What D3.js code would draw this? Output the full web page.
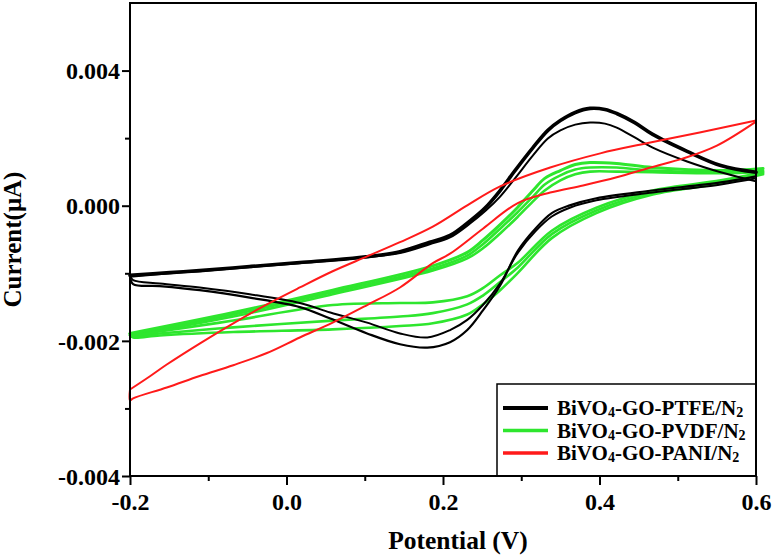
<!DOCTYPE html>
<html><head><meta charset="utf-8">
<script src="https://cdn.jsdelivr.net/npm/d3@7"></script>
<style>
body{margin:0;background:#fff}
svg{display:block}
text{font-family:"Liberation Serif","Times New Roman",serif;font-weight:bold;fill:#000}
</style>
</head><body>
<svg id="chart" width="775" height="556"></svg>
<script>
// ---------- axis ticks ----------
const xTicks = [-0.2, 0.0, 0.2, 0.4, 0.6];
const xTickLabels = ["-0.2", "0.0", "0.2", "0.4", "0.6"];
const xMinorTicks = [-0.1, 0.1, 0.3, 0.5];
const yTicks = [0.004, 0.000, -0.002, -0.004];
const yTickLabels = ["0.004", "0.000", "-0.002", "-0.004"];
const yMinorTicks = [0.002, -0.001, -0.003];

// ---------- series ----------
const seriesNames = ["BiVO4-GO-PTFE/N2", "BiVO4-GO-PVDF/N2", "BiVO4-GO-PANI/N2"];
const seriesColors = ["#000000", "#2ee62e", "#ff1a1a"];

// PTFE, anodic (forward) scans
const ptfeForwardV = [-0.200, -0.149, -0.111, -0.047, 0.017, 0.081, 0.145, 0.183, 0.209, 0.235, 0.254, 0.273, 0.292, 0.315, 0.334, 0.350, 0.369, 0.388, 0.407, 0.422, 0.445, 0.468, 0.512, 0.555, 0.600];
const ptfeForward1I = [-0.00103, -0.00099, -0.00096, -0.00090, -0.00084, -0.00078, -0.00068, -0.00054, -0.00044, -0.00022, -0.00003, 0.00045, 0.00104, 0.00172, 0.00223, 0.00252, 0.00276, 0.00288, 0.00285, 0.00273, 0.00246, 0.00211, 0.00161, 0.00119, 0.00099];
const ptfeForward2I = [-0.00105, -0.00100, -0.00097, -0.00091, -0.00085, -0.00079, -0.00070, -0.00057, -0.00047, -0.00026, -0.00008, 0.00027, 0.00081, 0.00149, 0.00199, 0.00223, 0.00240, 0.00246, 0.00243, 0.00231, 0.00202, 0.00172, 0.00131, 0.00099, 0.00072];
// PTFE, cathodic (reverse) scans
const ptfeReverseV = [0.600, 0.555, 0.468, 0.396, 0.362, 0.339, 0.318, 0.296, 0.273, 0.251, 0.231, 0.209, 0.180, 0.145, 0.103, 0.056, 0.017, -0.047, -0.111, -0.162, -0.196, -0.200];
const ptfeReverse1I = [0.00087, 0.00069, 0.00045, 0.00022, 0.00001, -0.00011, -0.00034, -0.00066, -0.00118, -0.00155, -0.00184, -0.00202, -0.00210, -0.00205, -0.00189, -0.00167, -0.00150, -0.00136, -0.00125, -0.00119, -0.00116, -0.00105];
const ptfeReverse2I = [0.00081, 0.00063, 0.00039, 0.00016, -0.00003, -0.00016, -0.00038, -0.00069, -0.00115, -0.00147, -0.00169, -0.00184, -0.00195, -0.00189, -0.00173, -0.00158, -0.00144, -0.00131, -0.00121, -0.00115, -0.00110, -0.00104];

// PVDF, three cycles
const pvdfForwardV = [-0.200, -0.068, 0.059, 0.187, 0.231, 0.251, 0.273, 0.295, 0.315, 0.330, 0.350, 0.369, 0.388, 0.422, 0.468, 0.555, 0.609];
const pvdfForward1I = [-0.00189, -0.00158, -0.00125, -0.00089, -0.00069, -0.00051, -0.00028, -0.00003, 0.00045, 0.00081, 0.00104, 0.00122, 0.00128, 0.00125, 0.00113, 0.00104, 0.00110];
const pvdfForward2I = [-0.00190, -0.00161, -0.00128, -0.00093, -0.00074, -0.00057, -0.00034, -0.00010, 0.00027, 0.00063, 0.00090, 0.00107, 0.00113, 0.00113, 0.00104, 0.00099, 0.00104];
const pvdfForward3I = [-0.00192, -0.00164, -0.00131, -0.00096, -0.00078, -0.00063, -0.00041, -0.00017, 0.00013, 0.00045, 0.00075, 0.00093, 0.00101, 0.00101, 0.00099, 0.00096, 0.00101];
const pvdfReverseV = [0.609, 0.555, 0.468, 0.396, 0.339, 0.296, 0.273, 0.251, 0.231, 0.187, 0.145, 0.059, -0.068, -0.162, -0.196, -0.200];
const pvdfReverse1I = [0.00099, 0.00075, 0.00045, -0.00003, -0.00037, -0.00084, -0.00103, -0.00122, -0.00134, -0.00143, -0.00144, -0.00147, -0.00170, -0.00186, -0.00192, -0.00189];
const pvdfReverse2I = [0.00096, 0.00072, 0.00039, -0.00007, -0.00042, -0.00091, -0.00113, -0.00133, -0.00146, -0.00159, -0.00164, -0.00170, -0.00180, -0.00189, -0.00193, -0.00190];
const pvdfReverse3I = [0.00093, 0.00066, 0.00033, -0.00011, -0.00048, -0.00099, -0.00125, -0.00146, -0.00161, -0.00174, -0.00178, -0.00183, -0.00187, -0.00192, -0.00195, -0.00192];

// PANI, one cycle
const paniForwardV = [-0.200, -0.174, -0.153, -0.111, -0.068, -0.025, 0.017, 0.059, 0.103, 0.145, 0.187, 0.231, 0.273, 0.337, 0.401, 0.465, 0.528, 0.600];
const paniForwardI = [-0.00272, -0.00252, -0.00235, -0.00204, -0.00174, -0.00146, -0.00121, -0.00097, -0.00075, -0.00054, -0.00031, 0.00001, 0.00057, 0.00113, 0.00155, 0.00187, 0.00217, 0.00252];
const paniReverseV = [0.600, 0.550, 0.507, 0.465, 0.422, 0.379, 0.337, 0.295, 0.251, 0.209, 0.187, 0.145, 0.103, 0.059, 0.017, -0.025, -0.068, -0.111, -0.153, -0.196, -0.200, -0.200];
const paniReverseI = [0.00249, 0.00178, 0.00140, 0.00113, 0.00084, 0.00060, 0.00039, 0.00007, -0.00034, -0.00071, -0.00085, -0.00121, -0.00147, -0.00173, -0.00195, -0.00218, -0.00236, -0.00252, -0.00269, -0.00285, -0.00288, -0.00272];

// ---------- layout ----------
const W = 775, H = 556;
const m = {left: 130, right: 19, top: 3, bottom: 80};
const plotW = W - m.left - m.right, plotH = H - m.top - m.bottom;

const svg = d3.select("#chart");

const x = d3.scaleLinear().domain([-0.2, 0.6]).range([m.left, m.left + plotW]);
// the original axis places its labelled ticks at equal spacing: piecewise linear scale
const yBot = m.top + plotH, yTop = m.top;
const unit = plotH / 3.5;
const y = d3.scaleLinear().domain([-0.004, 0, 0.006]).range([yBot, yBot - 2 * unit, yTop]);

const zip = (vs, is) => vs.map((v, i) => [v, is[i]]);
const line = d3.line().x(d => x(d[0])).y(d => y(d[1])).curve(d3.curveCatmullRom.alpha(0.5));

const plot = svg.append("g");
function draw(vs, is, color, w) {
  plot.append("path").datum(zip(vs, is)).attr("d", line)
    .attr("fill", "none").attr("stroke", color).attr("stroke-width", w)
    .attr("stroke-linejoin", "round").attr("stroke-linecap", "round");
}
// PVDF
draw(pvdfForwardV, pvdfForward3I, seriesColors[1], 2.6);
draw(pvdfReverseV, pvdfReverse3I, seriesColors[1], 2.6);
draw(pvdfForwardV, pvdfForward2I, seriesColors[1], 2.6);
draw(pvdfReverseV, pvdfReverse2I, seriesColors[1], 2.6);
draw(pvdfForwardV, pvdfForward1I, seriesColors[1], 3);
draw(pvdfReverseV, pvdfReverse1I, seriesColors[1], 2.6);
// PTFE
draw(ptfeForwardV, ptfeForward2I, seriesColors[0], 2);
draw(ptfeReverseV, ptfeReverse2I, seriesColors[0], 2);
draw(ptfeForwardV, ptfeForward1I, seriesColors[0], 3.6);
draw(ptfeReverseV, ptfeReverse1I, seriesColors[0], 2.2);
// PANI
draw(paniForwardV, paniForwardI, seriesColors[2], 2);
draw(paniReverseV, paniReverseI, seriesColors[2], 2);

// ---------- legend ----------
const lg = svg.append("g");
const lgX = 497, lgY = 384, lgW = m.left + plotW - lgX, lgH = yBot - lgY;
lg.append("rect").attr("x", lgX).attr("y", lgY).attr("width", lgW).attr("height", lgH)
  .attr("fill", "#fff").attr("stroke", "#000").attr("stroke-width", 1.5);
const lgWidths = [4, 3.5, 3.5];
seriesNames.forEach((name, i) => {
  const cy = lgY + 24 + i * 22.5;
  lg.append("line").attr("x1", lgX + 6).attr("x2", lgX + 51).attr("y1", cy).attr("y2", cy)
    .attr("stroke", seriesColors[i]).attr("stroke-width", lgWidths[i]);
  const t = lg.append("text").attr("x", lgX + 60).attr("y", cy + 7).attr("font-size", 21);
  const m1 = name.match(/^(BiVO)(4)(-GO-.*\/N)(2)$/);
  t.append("tspan").text(m1[1]);
  t.append("tspan").text(m1[2]).attr("font-size", 14).attr("dy", 2);
  t.append("tspan").text(m1[3]).attr("dy", -2);
  t.append("tspan").text(m1[4]).attr("font-size", 14).attr("dy", 2);
});

// ---------- axes / frame ----------
const ax = svg.append("g").attr("stroke", "#000").attr("stroke-width", 2);
ax.append("rect").attr("x", m.left).attr("y", m.top).attr("width", plotW).attr("height", plotH)
  .attr("fill", "none");

const xAxis = d3.axisBottom(x).tickValues(xTicks).tickSize(9).tickFormat((d, i) => xTickLabels[i]);
const gx = svg.append("g").attr("transform", `translate(0,${yBot})`).call(xAxis);
const xMinor = d3.axisBottom(x).tickValues(xMinorTicks).tickSize(5).tickFormat("");
svg.append("g").attr("transform", `translate(0,${yBot})`).call(xMinor);

const yAxis = d3.axisLeft(y).tickValues(yTicks).tickSize(8).tickFormat((d, i) => yTickLabels[i]);
const gy = svg.append("g").attr("transform", `translate(${m.left},0)`).call(yAxis);
const yMinor = d3.axisLeft(y).tickValues(yMinorTicks).tickSize(5).tickFormat("");
svg.append("g").attr("transform", `translate(${m.left},0)`).call(yMinor);

svg.selectAll(".domain").remove();
svg.selectAll(".tick line").attr("stroke", "#000").attr("stroke-width", 2);
gx.selectAll(".tick text").attr("font-size", 24).attr("font-family", null).attr("dy", "1.0em").attr("y", 10);
gy.selectAll(".tick text").attr("font-size", 24).attr("font-family", null).attr("x", -10).attr("dy", "0.34em");
svg.selectAll(".tick text").style("font-family", '"Liberation Serif","Times New Roman",serif').style("font-weight", "bold");

// titles
svg.append("text").attr("x", 458).attr("y", 549).attr("text-anchor", "middle")
  .attr("font-size", 25.5).text("Potential (V)");
svg.append("text").attr("transform", `translate(21,${m.top + plotH / 2}) rotate(-90)`)
  .attr("text-anchor", "middle").attr("font-size", 25).text("Current(μA)");
</script>
</body></html>
